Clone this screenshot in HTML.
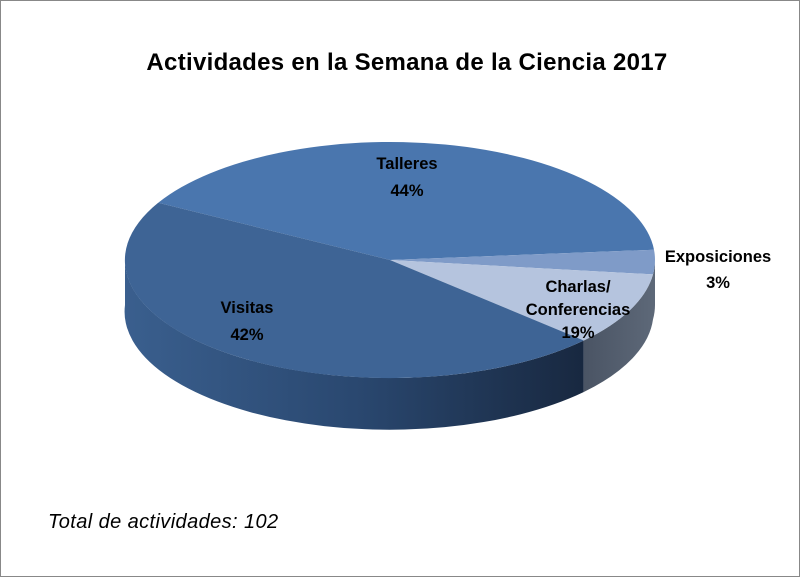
<!DOCTYPE html>
<html><head><meta charset="utf-8"><style>
html,body{margin:0;padding:0;background:#fff}
svg{display:block}
text{font-family:"Liberation Sans",Arial,sans-serif}
</style></head><body>
<svg width="800" height="577" viewBox="0 0 800 577" xmlns="http://www.w3.org/2000/svg">
<defs>
<linearGradient id="gv" x1="0" x2="1" y1="0" y2="0">
<stop offset="0" stop-color="#3a5f8e"/><stop offset="0.5" stop-color="#2a4870"/><stop offset="1" stop-color="#182840"/>
</linearGradient>
<linearGradient id="gc" x1="0" x2="1" y1="0" y2="0">
<stop offset="0" stop-color="#4a5464"/><stop offset="1" stop-color="#5d6878"/>
</linearGradient>
</defs>
<rect x="0.5" y="0.5" width="799" height="576" fill="#fff" stroke="#888"/>
<text x="407" y="70" font-size="24" font-weight="bold" text-anchor="middle" fill="#000" letter-spacing="0.3">Actividades en la Semana de la Ciencia 2017</text>
<path d="M583.8,340.5 A265,118 0 0 1 125,260 L125,305 A265,118 0 0 0 583.8,392 Z" fill="url(#gv)"/>
<path d="M653,274.4 A265,118 0 0 1 583.8,340.5 L583.8,392 A265,118 0 0 0 653,319.4 Z" fill="url(#gc)"/>
<path d="M655,260 A265,118 0 0 1 653,274.4 L653,319.4 A265,118 0 0 0 655,305 Z" fill="#5d6878"/>
<path d="M390,260 L158.2,202.8 A265,118 0 0 1 654,249.7 Z" fill="#4a76ae"/>
<path d="M390,260 L654,249.7 A265,118 0 0 1 653,274.4 Z" fill="#7f9bc8"/>
<path d="M390,260 L653,274.4 A265,118 0 0 1 583.8,340.5 Z" fill="#b5c4de"/>
<path d="M390,260 L583.8,340.5 A265,118 0 0 1 158.2,202.8 Z" fill="#3e6495"/>
<g font-size="16.5" font-weight="bold" text-anchor="middle" fill="#000">
<text x="407" y="169">Talleres</text><text x="407" y="196">44%</text>
<text x="247" y="313">Visitas</text><text x="247" y="340">42%</text>
<text x="578" y="292">Charlas/</text><text x="578" y="315">Conferencias</text><text x="578" y="338">19%</text>
<text x="718" y="262">Exposiciones</text><text x="718" y="288">3%</text>
</g>
<text x="48" y="528" font-size="20" font-style="italic" fill="#000" letter-spacing="0.4">Total de actividades: 102</text>
</svg>
</body></html>
